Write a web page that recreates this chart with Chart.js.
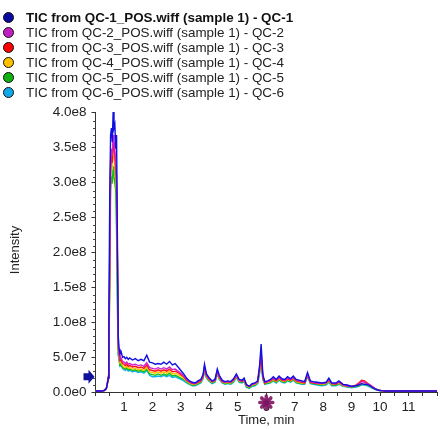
<!DOCTYPE html>
<html>
<head>
<meta charset="utf-8">
<script src="https://cdn.jsdelivr.net/npm/chart.js@4.4.1/dist/chart.umd.min.js"></script>
<style>
  body { margin: 0; background: #fff; }
  #wrap { position: relative; width: 440px; height: 429px; }
  #legend { position: absolute; left: 0; top: 10px; font: 13.4px "Liberation Sans", Arial, sans-serif; color: #222; }
  .row { height: 15px; line-height: 15px; white-space: nowrap; position: relative; padding-left: 26px; }
  .row.first { font-weight: bold; color: #111; }
  .dot { position: absolute; left: 3px; top: 2px; width: 9px; height: 9px; border-radius: 50%; border: 1px solid #111; }
</style>
</head>
<body>
<div id="wrap">
  <canvas id="chartTic" width="440" height="429"></canvas>
  <div id="legend"></div>
</div>
<script>
// retention time, min
const times = [
  0, 0.1, 0.2, 0.3, 0.38, 0.42, 0.45, 0.47, 0.5, 0.53,
  0.56, 0.59, 0.62, 0.65, 0.68, 0.71, 0.74, 0.77, 0.8, 0.83,
  0.86, 0.9, 0.95, 1.0, 1.05, 1.1, 1.15, 1.2, 1.3, 1.4,
  1.5, 1.6, 1.7, 1.8, 1.9, 2.0, 2.1, 2.2, 2.3, 2.4,
  2.5, 2.6, 2.7, 2.8, 2.9, 3.0, 3.1, 3.2, 3.3, 3.4,
  3.5, 3.6, 3.7, 3.78, 3.83, 3.9, 4.0, 4.1, 4.2, 4.28,
  4.35, 4.45, 4.55, 4.65, 4.75, 4.85, 4.95, 5.05, 5.15, 5.22,
  5.3, 5.4, 5.5, 5.6, 5.7, 5.77, 5.82, 5.88, 5.95, 6.05,
  6.15, 6.25, 6.35, 6.45, 6.55, 6.65, 6.75, 6.85, 6.95, 7.05,
  7.15, 7.25, 7.35, 7.45, 7.55, 7.65, 7.8, 7.95, 8.1, 8.2,
  8.3, 8.45, 8.55, 8.7, 8.85, 9.0, 9.15, 9.25, 9.35, 9.45,
  9.55, 9.65, 9.75, 9.85, 9.95, 10.05, 10.2, 10.5, 11, 11.5, 12
];

// intensities in units of 1e7
const qc1 = [
  0.15, 0.15, 0.15, 0.2, 0.5, 1.3, 2.0, 10, 28, 37,
  38, 36, 40.3, 38, 38.5, 35, 37, 22, 8, 6.2,
  5.5, 5.8, 5.0, 5.1, 4.8, 5.0, 4.7, 4.9, 4.6, 4.8,
  4.5, 4.7, 4.5, 5.3, 4.3, 4.2, 4.0, 4.1, 4.0, 4.3,
  4.0, 4.4, 3.9, 4.1, 3.6, 3.1, 2.6, 2.0, 1.6, 1.4,
  1.3, 1.6, 1.8, 2.5, 4.0, 2.6, 2.0, 1.6, 1.8, 3.3,
  2.4, 1.7, 1.5, 1.6, 1.5, 1.9, 2.6, 1.8, 1.7, 2.0,
  1.1, 0.8, 1.2, 1.3, 1.6, 4.0, 6.9, 2.5, 1.5, 1.6,
  1.8, 2.2, 1.8, 2.3, 1.9, 1.8, 2.2, 1.9, 2.3, 1.8,
  1.7, 1.6, 1.5, 2.8, 1.6, 1.5, 1.4, 1.3, 1.4, 2.0,
  1.3, 1.3, 1.6, 1.1, 1.0, 0.8, 0.9, 1.0, 1.2, 1.1,
  1.1, 0.9, 0.6, 0.4, 0.25, 0.2, 0.15, 0.15, 0.15, 0.15, 0.15
];
const qc2 = [
  0.15, 0.15, 0.15, 0.2, 0.5, 1.4, 2.2, 8, 19.5, 33,
  35, 34, 37, 36, 35, 33, 31, 20, 7, 5.6,
  4.8, 4.9, 4.4, 4.3, 4.1, 4.3, 4.0, 4.1, 3.9, 4.0,
  3.8, 3.9, 3.7, 4.2, 3.5, 3.4, 3.3, 3.5, 3.3, 3.5,
  3.3, 3.6, 3.2, 3.3, 3.0, 2.7, 2.3, 1.8, 1.5, 1.3,
  1.2, 1.5, 1.7, 2.3, 3.6, 2.4, 1.9, 1.5, 1.7, 3.0,
  2.2, 1.6, 1.4, 1.5, 1.4, 1.8, 2.4, 1.7, 1.6, 1.9,
  1.0, 0.8, 1.1, 1.2, 1.5, 3.6, 5.8, 2.2, 1.4, 1.5,
  1.7, 2.0, 1.7, 2.1, 1.8, 1.7, 2.0, 1.8, 2.1, 1.7,
  1.6, 1.5, 1.4, 2.5, 1.5, 1.4, 1.3, 1.2, 1.3, 1.8,
  1.2, 1.2, 1.5, 1.0, 0.9, 0.8, 0.9, 1.1, 1.5, 1.4,
  1.2, 1.0, 0.7, 0.4, 0.25, 0.2, 0.15, 0.15, 0.15, 0.15, 0.15
];
const qc3 = [
  0.15, 0.15, 0.15, 0.2, 0.5, 1.2, 2.0, 7, 17, 32,
  34, 33, 36, 35, 34, 32, 30, 19, 6.5, 5.3,
  4.5, 4.6, 4.1, 4.0, 3.8, 4.0, 3.7, 3.8, 3.6, 3.7,
  3.5, 3.6, 3.4, 3.9, 3.2, 3.1, 3.0, 3.2, 3.0, 3.2,
  3.0, 3.3, 2.9, 3.0, 2.8, 2.5, 2.2, 1.7, 1.4, 1.2,
  1.2, 1.4, 1.6, 2.2, 3.5, 2.3, 1.8, 1.5, 1.7, 2.9,
  2.1, 1.5, 1.4, 1.5, 1.4, 1.7, 2.4, 1.7, 1.5, 1.8,
  1.0, 0.8, 1.1, 1.2, 1.5, 3.4, 5.5, 2.1, 1.3, 1.5,
  1.6, 1.9, 1.6, 2.0, 1.7, 1.6, 1.9, 1.7, 2.0, 1.6,
  1.5, 1.4, 1.3, 2.4, 1.4, 1.3, 1.2, 1.2, 1.3, 1.7,
  1.2, 1.1, 1.4, 1.0, 0.9, 0.8, 1.0, 1.3, 1.7, 1.6,
  1.3, 1.0, 0.7, 0.4, 0.25, 0.2, 0.15, 0.15, 0.15, 0.15, 0.15
];
const qc4 = [
  0.15, 0.15, 0.15, 0.2, 0.5, 1.5, 2.5, 6, 15.5, 31,
  33, 32, 35, 34, 33, 31, 29, 18, 6, 5.0,
  4.2, 4.3, 3.8, 3.6, 3.5, 3.7, 3.4, 3.5, 3.3, 3.4,
  3.2, 3.3, 3.1, 3.6, 2.9, 2.8, 2.7, 2.9, 2.7, 2.9,
  2.7, 3.0, 2.6, 2.7, 2.5, 2.3, 2.0, 1.6, 1.3, 1.1,
  1.1, 1.3, 1.5, 2.1, 3.3, 2.2, 1.7, 1.4, 1.6, 2.8,
  2.0, 1.5, 1.3, 1.4, 1.3, 1.6, 2.3, 1.6, 1.5, 1.7,
  0.9, 0.7, 1.0, 1.1, 1.4, 3.2, 5.2, 2.0, 1.3, 1.4,
  1.5, 1.8, 1.5, 1.9, 1.6, 1.5, 1.8, 1.6, 1.9, 1.5,
  1.4, 1.3, 1.3, 2.4, 1.4, 1.3, 1.2, 1.1, 1.2, 1.6,
  1.1, 1.1, 1.3, 0.9, 0.9, 0.7, 0.9, 1.0, 1.2, 1.2,
  1.1, 0.9, 0.6, 0.4, 0.25, 0.2, 0.15, 0.15, 0.15, 0.15, 0.15
];
const qc5 = [
  0.15, 0.15, 0.15, 0.2, 0.5, 1.2, 2.0, 5, 14.5, 29,
  31, 30, 32.5, 31, 30, 29, 23, 12, 5.5, 4.7,
  3.9, 4.0, 3.6, 3.4, 3.3, 3.5, 3.2, 3.3, 3.1, 3.2,
  3.0, 3.1, 2.9, 3.3, 2.6, 2.5, 2.4, 2.6, 2.4, 2.6,
  2.4, 2.7, 2.3, 2.4, 2.2, 2.0, 1.8, 1.5, 1.2, 1.0,
  1.0, 1.2, 1.4, 2.0, 3.1, 2.1, 1.6, 1.3, 1.5, 2.7,
  1.9, 1.4, 1.2, 1.3, 1.2, 1.5, 2.2, 1.5, 1.4, 1.6,
  0.8, 0.6, 0.9, 1.0, 1.3, 3.0, 5.0, 1.9, 1.2, 1.3,
  1.4, 1.7, 1.4, 1.8, 1.5, 1.4, 1.7, 1.5, 1.8, 1.4,
  1.3, 1.2, 1.2, 2.3, 1.3, 1.2, 1.1, 1.0, 1.1, 1.5,
  1.0, 1.0, 1.2, 0.9, 0.8, 0.7, 0.8, 0.9, 1.1, 1.1,
  1.0, 0.8, 0.6, 0.4, 0.25, 0.2, 0.15, 0.15, 0.15, 0.15, 0.15
];
const qc6 = [
  0.15, 0.15, 0.15, 0.2, 0.5, 1.3, 2.2, 7, 21, 33,
  34, 33, 35, 34, 33.5, 31, 28, 16, 5.3, 4.5,
  3.7, 3.8, 3.4, 3.2, 3.1, 3.3, 3.0, 3.1, 2.9, 3.0,
  2.8, 2.9, 2.7, 3.1, 2.4, 2.2, 2.2, 2.3, 2.2, 2.4,
  2.2, 2.4, 2.1, 2.2, 2.0, 1.8, 1.6, 1.3, 1.1, 0.9,
  0.9, 1.1, 1.3, 1.9, 3.0, 2.0, 1.5, 1.2, 1.4, 2.6,
  1.8, 1.3, 1.1, 1.2, 1.1, 1.4, 2.1, 1.4, 1.3, 1.5,
  0.7, 0.5, 0.8, 0.9, 1.2, 2.8, 4.7, 1.8, 1.1, 1.2,
  1.3, 1.6, 1.3, 1.7, 1.4, 1.3, 1.6, 1.4, 1.7, 1.3,
  1.2, 1.1, 1.1, 2.2, 1.2, 1.1, 1.0, 0.9, 1.0, 1.4,
  0.9, 0.9, 1.1, 0.8, 0.7, 0.6, 0.7, 0.8, 1.0, 1.0,
  0.9, 0.7, 0.5, 0.3, 0.2, 0.15, 0.15, 0.15, 0.15, 0.15, 0.15
];

const seriesNames = [
  'TIC from QC-1_POS.wiff (sample 1) - QC-1',
  'TIC from QC-2_POS.wiff (sample 1) - QC-2',
  'TIC from QC-3_POS.wiff (sample 1) - QC-3',
  'TIC from QC-4_POS.wiff (sample 1) - QC-4',
  'TIC from QC-5_POS.wiff (sample 1) - QC-5',
  'TIC from QC-6_POS.wiff (sample 1) - QC-6'
];
const lineColors = ['#1010e0', '#d020d0', '#ff1010', '#ffc000', '#10c010', '#10b0f0'];
const dotColors = ['#0a0aa0', '#c020c0', '#ff0000', '#ffc000', '#10b010', '#10a8e8'];
const seriesValues = [qc1, qc2, qc3, qc4, qc5, qc6];

const legend = document.getElementById('legend');
seriesNames.forEach((name, i) => {
  const row = document.createElement('div');
  row.className = 'row' + (i === 0 ? ' first' : '');
  row.innerHTML = '<span class="dot" style="background:' + dotColors[i] + '"></span>' + name;
  legend.appendChild(row);
});

const datasets = seriesValues.map((vals, i) => ({
  label: seriesNames[i],
  data: times.map((t, k) => ({ x: t, y: vals[k] * 1e7 })),
  borderColor: lineColors[i],
  borderWidth: 1.4,
  pointRadius: 0,
  tension: 0,
  fill: false
}));

const axisFont = { family: '"Liberation Sans", Arial, sans-serif', size: 13.5 };

const extras = {
  id: 'extras',
  afterDraw(chart) {
    const { ctx, scales: { x, y } } = chart;
    ctx.save();
    // minor y ticks
    ctx.strokeStyle = '#444';
    ctx.lineWidth = 1;
    for (let v = 1e7; v < 4e8; v += 1e7) {
      if (v % 5e7 === 0) continue;
      const py = Math.round(y.getPixelForValue(v)) + 0.5;
      ctx.beginPath();
      ctx.moveTo(x.left - 2.5, py);
      ctx.lineTo(x.left, py);
      ctx.stroke();
    }
    // arrow marker
    const ay = y.getPixelForValue(2.2e7);
    const ax = x.left - 1;
    ctx.fillStyle = '#10109a';
    ctx.beginPath();
    ctx.moveTo(ax - 11, ay - 3.5);
    ctx.lineTo(ax - 6, ay - 3.5);
    ctx.lineTo(ax - 6, ay - 7);
    ctx.lineTo(ax, ay);
    ctx.lineTo(ax - 6, ay + 7);
    ctx.lineTo(ax - 6, ay + 3.5);
    ctx.lineTo(ax - 11, ay + 3.5);
    ctx.closePath();
    ctx.fill();
    // star marker at 6 min
    const sx = x.getPixelForValue(6);
    const sy = y.bottom + 10.5;
    ctx.strokeStyle = 'rgba(128,20,100,0.9)';
    ctx.lineWidth = 3.5;
    ctx.lineCap = 'round';
    for (let k = 0; k < 4; k++) {
      const a = k * Math.PI / 4;
      ctx.beginPath();
      ctx.moveTo(sx - 6.5 * Math.cos(a), sy - 6.5 * Math.sin(a));
      ctx.lineTo(sx + 6.5 * Math.cos(a), sy + 6.5 * Math.sin(a));
      ctx.stroke();
    }
    // axis titles
    ctx.fillStyle = '#222';
    ctx.font = '13px "Liberation Sans", Arial, sans-serif';
    ctx.textAlign = 'center';
    ctx.textBaseline = 'middle';
    ctx.fillText('Time, min', (x.left + x.right) / 2, 420);
    ctx.translate(15, 250);
    ctx.rotate(-Math.PI / 2);
    ctx.fillText('Intensity', 0, 0);
    ctx.restore();
  }
};

const config = {
  type: 'line',
  data: { datasets: datasets },
  options: {
    responsive: false,
    animation: false,
    layout: { padding: { top: 112, right: 1, left: 0, bottom: 0 } },
    plugins: { legend: { display: false }, tooltip: { enabled: false } },
    scales: {
      x: {
        type: 'linear',
        min: 0,
        max: 12,
        afterFit: (scale) => { scale.height = 37; },
        border: { display: true, color: '#333' },
        grid: { drawOnChartArea: false, drawTicks: true, tickLength: 4, color: '#333' },
        ticks: {
          stepSize: 0.5,
          autoSkip: false,
          maxRotation: 0,
          includeBounds: false,
          padding: 3,
          color: '#222',
          font: axisFont,
          callback: (v) => (Number.isInteger(v) && v > 0 && v < 12) ? String(v) : ''
        }
      },
      y: {
        min: 0,
        max: 4.03e8,
        afterFit: (scale) => { scale.width = 95.5; },
        border: { display: true, color: '#333' },
        grid: { drawOnChartArea: false, drawTicks: true, tickLength: 4, color: '#333' },
        ticks: {
          stepSize: 5e7,
          autoSkip: false,
          includeBounds: false,
          padding: 5,
          color: '#222',
          font: axisFont,
          callback: (v) => v.toExponential(1).replace('e+', 'e')
        }
      }
    }
  },
  plugins: [extras]
};

const chartTic = new Chart(document.getElementById('chartTic'), config);
</script>
</body>
</html>
